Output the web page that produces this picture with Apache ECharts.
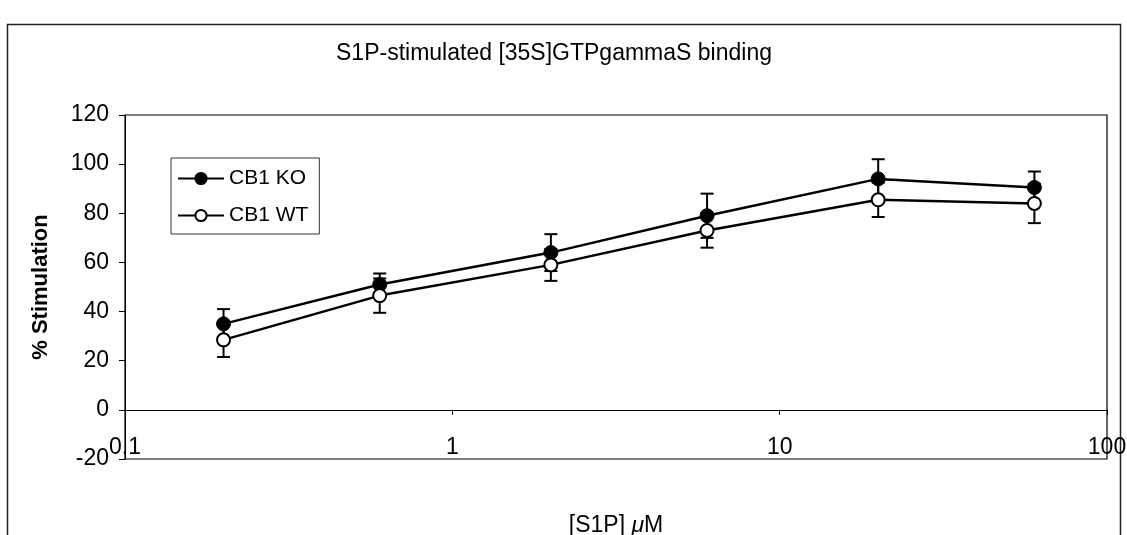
<!DOCTYPE html>
<html>
<head>
<meta charset="utf-8">
<script src="https://cdn.jsdelivr.net/npm/echarts@6/dist/echarts.min.js"></script>
<style>
html,body{margin:0;padding:0;background:#fff;}
#main{width:1127px;height:535px;}
</style>
</head>
<body>
<div id="main"></div>
<script>
const concentrations = [0.2, 0.6, 2, 6, 20, 60];
const koValues = [35, 51, 64, 79, 94, 90.5];
const koErrors = [6, 4.5, 7.5, 9, 8, 6.5];
const wtValues = [28.5, 46.5, 59, 73, 85.5, 84];
const wtErrors = [7, 7, 6.5, 7, 7, 8];
const yTicks = [-20, 0, 20, 40, 60, 80, 100, 120];
const seriesNames = ['CB1 KO', 'CB1 WT'];

const FONT = '"Liberation Sans", Arial, sans-serif';

function pairs(vals) { return concentrations.map((c, i) => [c, vals[i]]); }
function errData(vals, errs) { return concentrations.map((c, i) => [c, vals[i] - errs[i], vals[i] + errs[i]]); }

function errRender(params, api) {
  const x = api.value(0);
  const lo = api.coord([x, api.value(1)]);
  const hi = api.coord([x, api.value(2)]);
  const w = 6.5;
  const style = { stroke: '#000', lineWidth: 2 };
  return {
    type: 'group',
    children: [
      { type: 'line', shape: { x1: lo[0], y1: lo[1], x2: hi[0], y2: hi[1] }, style },
      { type: 'line', shape: { x1: hi[0] - w, y1: hi[1], x2: hi[0] + w, y2: hi[1] }, style },
      { type: 'line', shape: { x1: lo[0] - w, y1: lo[1], x2: lo[0] + w, y2: lo[1] }, style }
    ]
  };
}

const chart = echarts.init(document.getElementById('main'), null, { renderer: 'canvas' });
chart.setOption({
  animation: false,
  backgroundColor: '#fff',
  textStyle: { fontFamily: FONT, color: '#000' },
  title: {
    text: 'S1P-stimulated [35S]GTPgammaS binding',
    left: 549, top: 37, textAlign: 'center',
    textStyle: { fontFamily: FONT, fontSize: 23, fontWeight: 'normal', color: '#000' }
  },
  graphic: [
    { type: 'rect', shape: { x: 7.5, y: 24.5, width: 1113, height: 530 },
      style: { fill: null, stroke: '#222', lineWidth: 1.5 }, silent: true, z: -1 }
  ],
  legend: {
    data: seriesNames,
    left: 171, top: 158,
    orient: 'vertical',
    padding: [10, 11, 8, 6],
    itemGap: 16,
    itemWidth: 46, itemHeight: 14,
    borderColor: '#333', borderWidth: 1,
    textStyle: { fontFamily: FONT, fontSize: 21, color: '#000' }
  },
  grid: {
    left: 125, right: 20, top: 115, bottom: 76,
    outerBoundsMode: 'none', containLabel: false,
    show: true, borderColor: '#000', borderWidth: 1.2, backgroundColor: 'transparent'
  },
  xAxis: [
    {
      type: 'log', logBase: 10, min: 0.1, max: 100,
      position: 'bottom',
      name: '[S1P] {i|μ}M', nameLocation: 'middle', nameGap: 55,
      nameTextStyle: { fontFamily: FONT, fontSize: 23, color: '#000',
        rich: { i: { fontFamily: FONT, fontSize: 23, fontStyle: 'italic', color: '#000' } } },
      axisLine: { show: true, onZero: true, lineStyle: { color: '#000', width: 1 } },
      axisTick: { show: true, length: 5, lineStyle: { color: '#000' } },
      axisLabel: { show: false },
      splitLine: { show: false }, minorTick: { show: false }
    },
    {
      type: 'log', logBase: 10, min: 0.1, max: 100,
      position: 'bottom',
      axisLine: { show: false, onZero: false },
      axisTick: { show: false },
      axisLabel: { show: true, inside: true, margin: 0, fontFamily: FONT, fontSize: 23, color: '#000',
        showMinLabel: true, showMaxLabel: true, hideOverlap: false },
      splitLine: { show: false }
    }
  ],
  yAxis: {
    type: 'value', min: -20, max: 120, interval: 20,
    name: '% Stimulation', nameLocation: 'middle', nameGap: 73, nameRotate: 90,
    nameTextStyle: { fontFamily: FONT, fontSize: 22, fontWeight: 'bold', color: '#000' },
    axisLine: { show: true, lineStyle: { color: '#000', width: 1 } },
    axisTick: { show: true, length: 6, lineStyle: { color: '#000' } },
    axisLabel: { margin: 16, fontFamily: FONT, fontSize: 23, color: '#000',
      formatter: v => yTicks.includes(v) ? String(v) : '' },
    splitLine: { show: false }
  },
  series: [
    { type: 'custom', name: 'KO err', xAxisIndex: 0, renderItem: errRender,
      encode: { x: 0, y: [1, 2] }, data: errData(koValues, koErrors), z: 1, silent: true },
    { type: 'custom', name: 'WT err', xAxisIndex: 0, renderItem: errRender,
      encode: { x: 0, y: [1, 2] }, data: errData(wtValues, wtErrors), z: 1, silent: true },
    { type: 'line', name: seriesNames[0], xAxisIndex: 0, data: pairs(koValues),
      symbol: 'circle', symbolSize: 14,
      lineStyle: { color: '#000', width: 2.5 },
      itemStyle: { color: '#000', borderColor: '#000', borderWidth: 1 }, z: 3 },
    { type: 'line', name: seriesNames[1], xAxisIndex: 0, data: pairs(wtValues),
      symbol: 'circle', symbolSize: 13,
      lineStyle: { color: '#000', width: 2.5 },
      itemStyle: { color: '#fff', borderColor: '#000', borderWidth: 2 }, z: 4 }
  ]
});
</script>
</body>
</html>
